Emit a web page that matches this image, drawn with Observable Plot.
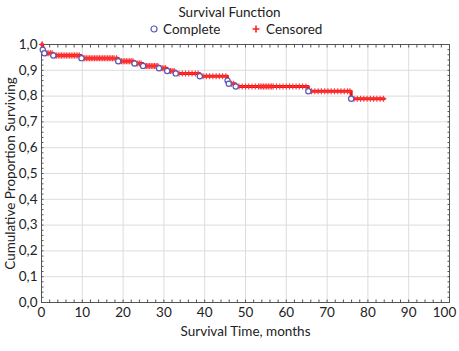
<!DOCTYPE html>
<html>
<head>
<meta charset="utf-8">
<script src="https://cdn.jsdelivr.net/npm/d3@7"></script>
<script src="https://cdn.jsdelivr.net/npm/@observablehq/plot@0.6"></script>
<style>
  html, body { margin: 0; padding: 0; background: #fff; }
  #wrap { width: 459px; height: 351px; font-family: Lato, "Noto Sans", sans-serif; color: #222; }
  #head { height: 36px; position: relative; }
  #title { position: absolute; top: 4px; left: 0; width: 459px; text-align: center; font-size: 13.5px; }
  .leg { position: absolute; top: 21px; font-size: 13.5px; display: flex; align-items: center; }
  svg { display: block; }
</style>
</head>
<body>
<div id="wrap">
  <div id="head">
    <div id="title">Survival Function</div>
    <div class="leg" style="left:149px;"><svg width="10" height="10"><circle cx="5" cy="5" r="3" fill="#fff" stroke="#5a5ab4" stroke-width="1.2"></circle></svg><span style="margin-left:4px">Complete</span></div>
    <div class="leg" style="left:251px;"><svg width="10" height="10"><path d="M5,1.5V8.5M1.5,5H8.5" stroke="#ff2020" stroke-width="1.6"></path></svg><span style="margin-left:5px">Censored</span></div>
  </div>
  <div id="chart"></div>
</div>
<script>
// Step function of the Kaplan-Meier estimate (time, cumulative proportion surviving)
const stepTimes = [0, 0.3, 0.7, 2.9, 9.8, 18.8, 22.8, 24.9, 28.8, 30.8, 32.9, 38.8, 45.6, 45.9, 47.6, 65.4, 75.9, 84];
const stepSurv  = [1.0, 0.980, 0.966, 0.957, 0.947, 0.935, 0.926, 0.917, 0.908, 0.897, 0.888, 0.877, 0.860, 0.848, 0.837, 0.819, 0.790, 0.790];

// Complete (event) observations
const completeTimes = [0.3, 0.7, 2.9, 9.8, 18.8, 22.8, 24.9, 28.8, 30.8, 32.9, 38.8, 45.6, 45.9, 47.6, 65.4, 75.9];

// Censored observations (times)
const censoredTimes = [
  0.1, 0.2, 1.0, 1.4, 1.8, 2.2, 2.6,
  3.3, 3.7, 4.1, 4.5, 4.9, 5.3, 5.7, 6.1, 6.5, 6.9, 7.3, 7.7, 8.1, 8.5, 8.9, 9.3,
  10.2, 10.6, 11.0, 11.4, 11.8, 12.2, 12.6, 13.0, 13.4, 13.8, 14.2, 14.6, 15.0, 15.4, 15.8, 16.2, 16.6, 17.0, 17.4, 17.8, 18.4,
  19.2, 19.6, 20.0, 20.4, 20.8, 21.2, 21.6, 22.0, 22.4,
  23.2, 23.6, 24.0, 24.4,
  25.3, 25.7, 26.1, 26.5, 26.9, 27.3, 27.7, 28.1, 28.5,
  29.2, 29.6, 30.0, 30.4,
  31.2, 31.6, 32.0, 32.5,
  33.7, 34.5, 35.3, 36.1, 36.9, 37.7, 38.4,
  39.6, 40.4, 41.2, 42.0, 42.8, 43.6, 44.4, 45.2,
  46.6, 47.1,
  48.4, 49.2, 50.0, 50.8, 51.6, 52.4, 53.2, 53.6, 54.0, 54.4, 54.8, 55.2, 55.6, 56.0, 56.4, 56.8, 57.6, 58.4, 59.2, 60.0, 60.8, 61.6, 62.4, 63.2, 64.0, 64.8,
  66.2, 67.0, 67.8, 68.6, 69.4, 70.2, 71.0, 71.8, 72.6, 73.4, 74.2, 75.0, 75.6,
  76.6, 77.4, 78.2, 79.0, 79.8, 80.6, 81.4, 82.2, 83.0, 83.8
];

const xTicks = [0, 10, 20, 30, 40, 50, 60, 70, 80, 90, 100];
const yTicks = [0, 0.1, 0.2, 0.3, 0.4, 0.5, 0.6, 0.7, 0.8, 0.9, 1.0];
const xMinor = d3.range(0, 101, 2);
const yMinor = d3.range(0, 1.0001, 0.02);

const steps = stepTimes.map((t, i) => ({t, s: stepSurv[i]}));
const survAt = t => steps[d3.bisector(d => d.t).right(steps, t) - 1].s;
const completes = completeTimes.map(t => ({t, s: survAt(t)}));
const censored = censoredTimes.map(t => ({t, s: survAt(t)}));

const fmt = d => d.toFixed(1).replace(".", ",");
const xLast = xTicks[xTicks.length - 1];

const plot = Plot.plot({
  width: 459,
  height: 315,
  marginTop: 8,
  marginLeft: 41,
  marginRight: 10,
  marginBottom: 49,
  style: {fontFamily: "Lato, Noto Sans, sans-serif", fontSize: "13.5px", color: "#222", background: "#fff", overflow: "visible"},
  x: {domain: [0, 100]},
  y: {domain: [0, 1]},
  marks: [
    Plot.gridX(xTicks, {stroke: "#dcdcdc", strokeOpacity: 1}),
    Plot.gridY(yTicks, {stroke: "#dcdcdc", strokeOpacity: 1}),
    Plot.axisX(xTicks.slice(0, -1), {tickSize: 0, tickPadding: 5, tickFormat: d => String(d), label: "Survival Time, months", labelAnchor: "center", labelOffset: 33, labelArrow: "none", fontSize: 13.5}),
    Plot.axisX([xLast], {tickSize: 0, tickPadding: 5, tickFormat: d => String(d), label: null, dx: -5, fontSize: 13.5}),
    Plot.axisY(yTicks, {tickSize: 0, tickPadding: 4, tickFormat: fmt, label: "Cumulative Proportion Surviving", labelAnchor: "center", labelOffset: 36, labelArrow: "none", fontSize: 13.5}),
    Plot.axisX(xMinor, {anchor: "bottom", tickSize: -2.5, text: null, label: null, stroke: "#555"}),
    Plot.axisX(xMinor, {anchor: "top", tickSize: -2.5, text: null, label: null, stroke: "#555"}),
    Plot.axisY(yMinor, {anchor: "left", tickSize: -2.5, text: null, label: null, stroke: "#555"}),
    Plot.axisY(yMinor, {anchor: "right", tickSize: -2.5, text: null, label: null, stroke: "#555"}),
    Plot.frame({stroke: "#555"}),
    Plot.line(steps, {x: "t", y: "s", curve: "step-after", stroke: "#e81010", strokeWidth: 3}),
    Plot.dot(censored, {x: "t", y: "s", symbol: "plus", r: 2.1, stroke: "#ff3030", strokeWidth: 1.1}),
    Plot.dot(completes, {x: "t", y: "s", symbol: "circle", r: 2.6, fill: "#fff", stroke: "#5a5ab4", strokeWidth: 1.2})
  ]
});
document.getElementById("chart").appendChild(plot);
</script>
</body>
</html>
